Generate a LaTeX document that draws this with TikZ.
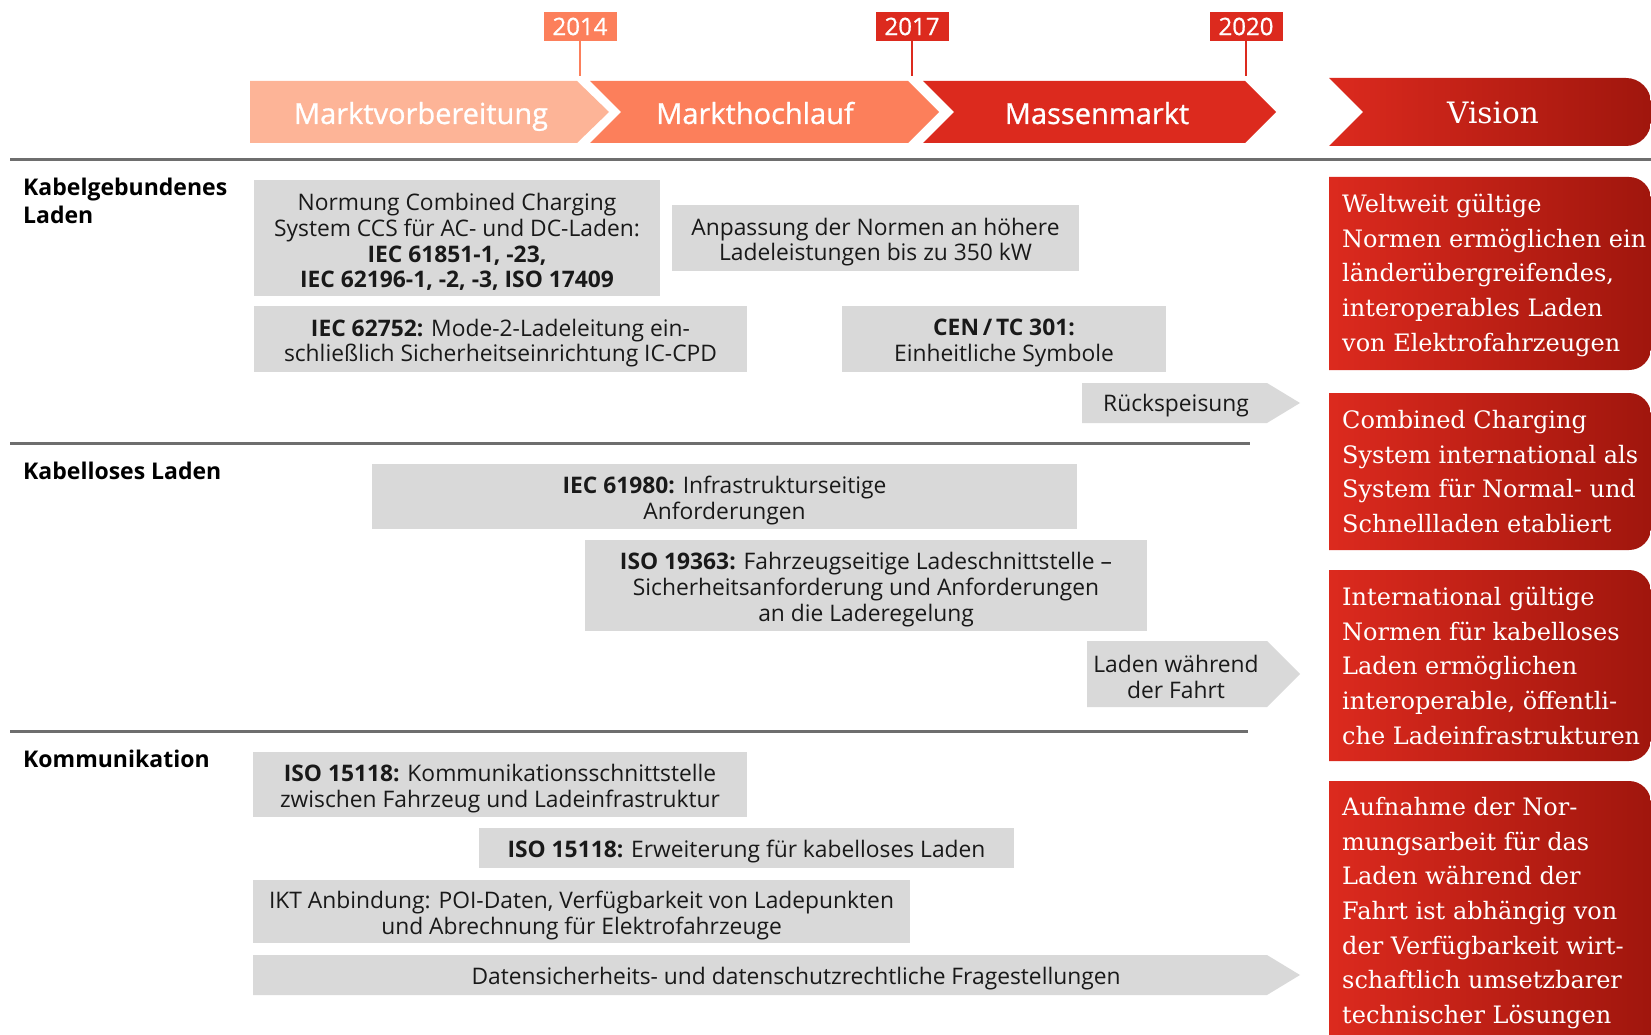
\documentclass[tikz,border=0pt]{standalone}
\usepackage{fontspec}
\setmainfont{Open Sans}
\newfontfamily\vserif{DejaVu Serif}
\newfontfamily\medsans[FakeBold=0.8]{Open Sans}
\definecolor{phaseA}{HTML}{FDB497}
\definecolor{phaseB}{HTML}{FC7F5B}
\definecolor{dbred}{HTML}{DC2A1E}
\definecolor{dbdark}{HTML}{A0160D}
\definecolor{boxgray}{HTML}{D9D9D9}
\definecolor{rulegray}{HTML}{6E6E6E}
\begin{document}
\begin{tikzpicture}[x=1pt,y=-1pt,
  gfill/.style={fill=boxgray, inner sep=0pt},
  txt/.style={inner sep=0pt, align=center, text=black!90, font=\fontsize{22.8}{25.7}\selectfont},
  rowlabel/.style={inner sep=0pt, anchor=north west, align=left, font=\fontsize{23}{27.5}\selectfont\bfseries},
  phase/.style={text=white, inner sep=0pt, anchor=base, font=\fontsize{29}{32}\medsans},
  year/.style={fill=#1, text=white, inner sep=0pt, minimum width=73pt, minimum height=29pt, font=\fontsize{24}{26}\medsans},
  stem/.style={draw=#1, line width=2pt},
  rule/.style={draw=rulegray, line width=3pt},
  vtext/.style={text=white, inner sep=0pt, anchor=north west, align=left, font=\fontsize{24}{34.7}\vserif},
  vshade/.style={left color=dbred, right color=dbdark},
]
\useasboundingbox (0,0) rectangle (1651,1035);
% phase arrows
\fill[phaseA] (250,81)--(577,81)--(609,112)--(577,143)--(250,143)--cycle;
\fill[phaseB] (590,81)--(908,81)--(939,112)--(908,143)--(590,143)--(621,112)--cycle;
\fill[dbred] (923,81)--(1245,81)--(1276,112)--(1245,143)--(923,143)--(954,112)--cycle;
\shade[vshade] (1329,78)--(1626,78) arc(-90:0:25) -- (1651,121) arc(0:90:25) -- (1329,146) -- (1363,112) -- cycle;
\node[phase] (p1) at (421,124) {Marktvorbereitung};
\node[phase] (p2) at (755,124) {Markthochlauf};
\node[phase] (p3) at (1097,124) {Massenmarkt};
\node[phase, anchor=center, font=\fontsize{29.5}{34}\vserif] (p4) at (1493,113) {Vision};
% year flags
\node[year=phaseB] (y1) at (580,26.5) {2014};
\node[year=dbred] (y2) at (912,26.5) {2017};
\node[year=dbred] (y3) at (1246,26.5) {2020};
\coordinate (s1) at (580,76);
\coordinate (s2) at (912,76);
\coordinate (s3) at (1246,76);
\draw[stem=phaseB] (y1.south) -- (s1);
\draw[stem=dbred] (y2.south) -- (s2);
\draw[stem=dbred] (y3.south) -- (s3);
% rules
\coordinate (r1a) at (10,160); \coordinate (r1b) at (1651,160);
\coordinate (r2a) at (10,443); \coordinate (r2b) at (1250,443);
\coordinate (r3a) at (10,731); \coordinate (r3b) at (1248,731);
\draw[rule] (r1a) -- (r1b);
\draw[rule] (r2a) -- (r2b);
\draw[rule] (r3a) -- (r3b);
% row labels
\node[rowlabel] (l1) at (23,178) {Kabelgebundenes\\Laden};
\node[rowlabel] (l2) at (23,462) {Kabelloses Laden};
\node[rowlabel] (l3) at (23,750) {Kommunikation};
% gray boxes
\node[gfill, minimum width=406pt, minimum height=116pt] (ccsbox) at (457,238) {};
\node[txt] (ccs) at ([yshift=-4pt]ccsbox.center)
  {Normung Combined Charging\\System CCS für AC- und DC-Laden:\\\textbf{IEC 61851-1, -23,}\\\textbf{IEC 62196-1, -2, -3, ISO 17409}};
\node[gfill, minimum width=407pt, minimum height=66pt] (anpbox) at (875.5,238) {};
\node[txt] (anp) at ([yshift=-4pt]anpbox.center)
  {Anpassung der Normen an höhere\\Ladeleistungen bis zu 350 kW};
\node[gfill, minimum width=493pt, minimum height=66pt] (mode2box) at (500.5,339) {};
\node[txt] (mode2) at ([yshift=-4pt]mode2box.center)
  {\textbf{IEC 62752:} Mode-2-Ladeleitung ein-\\schließlich Sicherheitseinrichtung IC-CPD};
\node[gfill, minimum width=324pt, minimum height=66pt] (cenbox) at (1004,339) {};
\node[txt] (cen) at ([yshift=-4pt]cenbox.center)
  {\textbf{CEN\,/\,TC 301:}\\Einheitliche Symbole};
\fill[boxgray] (1082,383)--(1267,383)--(1300,403)--(1267,423)--(1082,423)--cycle;
\node[txt] (rueck) at (1176,406) {Rückspeisung};
\node[gfill, minimum width=705pt, minimum height=65pt] (iec61980box) at (724.5,496.5) {};
\node[txt] (iec61980) at ([yshift=-4pt]iec61980box.center)
  {\textbf{IEC 61980:} Infrastrukturseitige\\Anforderungen};
\node[gfill, minimum width=562pt, minimum height=91pt] (iso19363box) at (866,585.5) {};
\node[txt] (iso19363) at ([yshift=-4pt]iso19363box.center)
  {\textbf{ISO 19363:} Fahrzeugseitige Ladeschnittstelle –\\Sicherheitsanforderung und Anforderungen\\an die Laderegelung};
\fill[boxgray] (1087,641)--(1267,641)--(1300,674)--(1267,707)--(1087,707)--cycle;
\node[txt] (fahrt) at (1176,677) {Laden während\\der Fahrt};
\node[gfill, minimum width=494pt, minimum height=65pt] (iso15118abox) at (500,784.5) {};
\node[txt] (iso15118a) at ([yshift=-4pt]iso15118abox.center)
  {\textbf{ISO 15118:} Kommunikationsschnittstelle\\zwischen Fahrzeug und Ladeinfrastruktur};
\node[gfill, minimum width=535pt, minimum height=40pt] (iso15118bbox) at (746.5,848) {};
\node[txt] (iso15118b) at ([yshift=-4pt]iso15118bbox.center)
  {\textbf{ISO 15118:} Erweiterung für kabelloses Laden};
\node[gfill, minimum width=657pt, minimum height=63pt] (iktbox) at (581.5,911.5) {};
\node[txt] (ikt) at ([yshift=-4pt]iktbox.center)
  {IKT Anbindung: POI-Daten, Verfügbarkeit von Ladepunkten\\und Abrechnung für Elektrofahrzeuge};
\fill[boxgray] (253,955)--(1267,955)--(1300,975)--(1267,995)--(253,995)--cycle;
\node[txt] (daten) at (796,979) {Datensicherheits- und datenschutzrechtliche Fragestellungen};
% vision boxes
\shade[vshade] (1329,177)--(1629,177) arc(-90:0:22) -- (1651,348) arc(0:90:22) -- (1329,370) -- cycle;
\shade[vshade] (1329,393)--(1629,393) arc(-90:0:22) -- (1651,528) arc(0:90:22) -- (1329,550) -- cycle;
\shade[vshade] (1329,570)--(1629,570) arc(-90:0:22) -- (1651,739) arc(0:90:22) -- (1329,761) -- cycle;
\shade[vshade] (1329,781)--(1629,781) arc(-90:0:22) -- (1651,1045) -- (1329,1045) -- cycle;
\node[vtext] (v1) at (1342,194) {Weltweit gültige\\Normen ermöglichen ein\\länderübergreifendes,\\interoperables Laden\\von Elektrofahrzeugen};
\node[vtext] (v2) at (1342,410) {Combined Charging\\System international als\\System für Normal- und\\Schnellladen etabliert};
\node[vtext] (v3) at (1342,587) {International gültige\\Normen für kabelloses\\Laden ermöglichen\\interoperable, öffentli-\\che Ladeinfrastrukturen};
\node[vtext] (v4) at (1342,797) {Aufnahme der Nor-\\mungsarbeit für das\\Laden während der\\Fahrt ist abhängig von\\der Verfügbarkeit wirt-\\schaftlich umsetzbarer\\technischer Lösungen};
\end{tikzpicture}
\end{document}
